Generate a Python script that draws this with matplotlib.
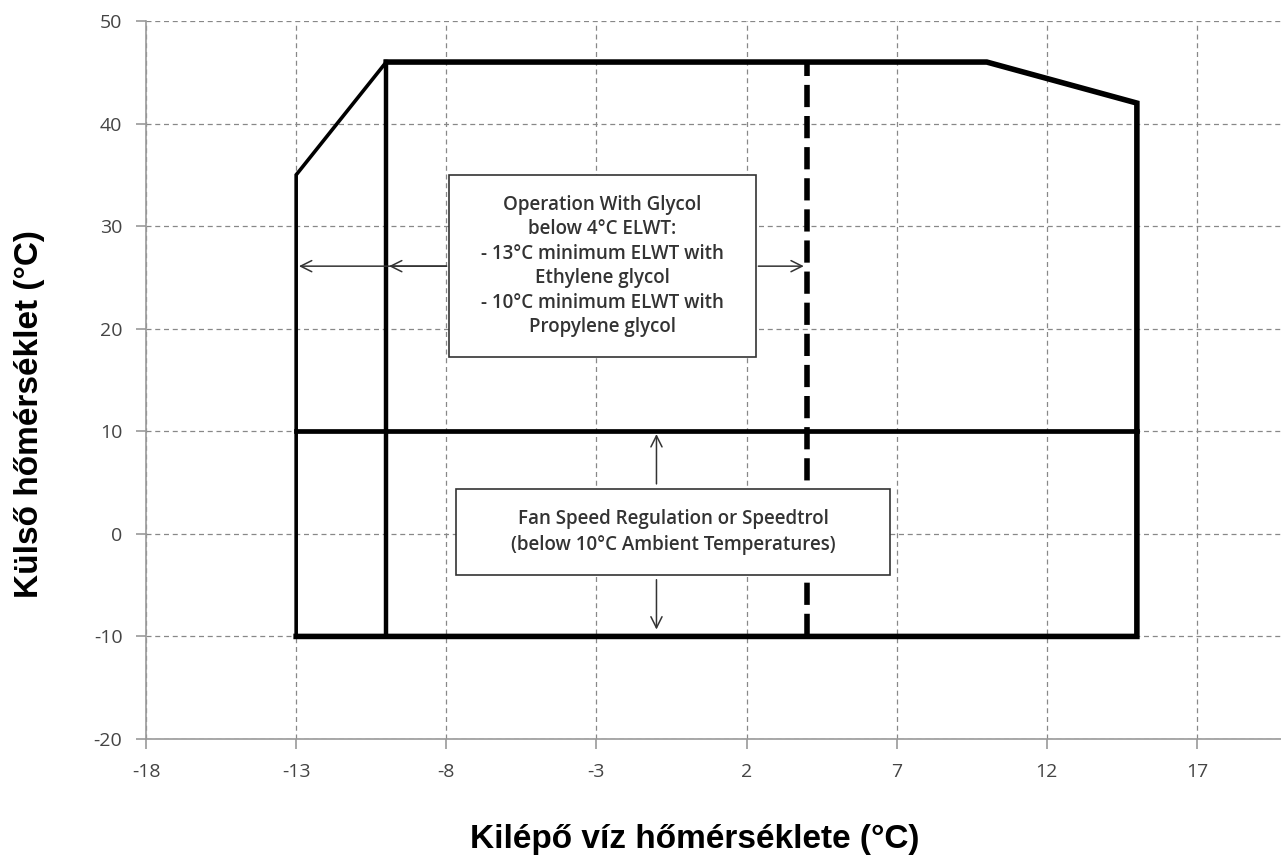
import matplotlib.pyplot as plt
from matplotlib.patches import Rectangle

# operating envelope (leaving water temp vs. ambient temp)
envelope_x = [-13, -13, -10, 10, 15, 15, -13]
envelope_y = [-10, 35, 46, 46, 42, -10, -10]
glycol_limit_x = -10      # glycol operation boundary
ambient_limit_y = 10      # fan speed regulation boundary
elwt_limit_x = 4          # 4°C ELWT line
y_low, y_high = -10, 46

x_ticks = [-18, -13, -8, -3, 2, 7, 12, 17]
y_ticks = [-20, -10, 0, 10, 20, 30, 40, 50]

glycol_text = ("Operation With Glycol\nbelow 4°C ELWT:\n- 13°C minimum ELWT with\n"
               "Ethylene glycol\n- 10°C minimum ELWT with\nPropylene glycol")
fan_text = "Fan Speed Regulation or Speedtrol\n(below 10°C Ambient Temperatures)"

plt.rcParams['axes.unicode_minus'] = False

fig = plt.figure(figsize=(12.81, 8.58), dpi=100)
ax = fig.add_axes([0.114, 0.1387, 0.886, 0.8368])

ax.set_xlim(-18, 19.8)
ax.set_ylim(-20, 50)
ax.set_xticks(x_ticks)
ax.set_yticks(y_ticks)
ax.grid(True, linestyle=(0, (4, 3)), color='#888888', linewidth=0.9)
ax.set_axisbelow(True)
for s in ['top', 'right']:
    ax.spines[s].set_visible(False)
for s in ['left', 'bottom']:
    ax.spines[s].set_color('#999999')
    ax.spines[s].set_linewidth(1.2)
ax.tick_params(colors='#999999', length=7, width=1.2, labelcolor='#444444',
               labelsize=14, pad=10)
for lab in ax.get_xticklabels() + ax.get_yticklabels():
    lab.set_family('Open Sans')

# envelope outline: thinner slanted left part, heavier rest
ax.plot(envelope_x[:3], envelope_y[:3], color='black', lw=2.6,
        solid_joinstyle='miter', zorder=3)
ax.plot(envelope_x[2:], envelope_y[2:], color='black', lw=4.0,
        solid_joinstyle='miter', zorder=3)
ax.plot([glycol_limit_x, glycol_limit_x], [y_low, y_high], color='black', lw=3.2, zorder=3)
ax.plot([envelope_x[0], envelope_x[4]], [ambient_limit_y, ambient_limit_y],
        color='black', lw=3.4, zorder=3)
ax.plot([elwt_limit_x, elwt_limit_x], [y_low, y_high], color='black', lw=4.0,
        linestyle=(0, (4, 1.6)), zorder=3)

# annotation boxes
ax.add_patch(Rectangle((-7.9, 17.25), 10.2, 17.75, facecolor='white',
                       edgecolor='#333333', lw=1.2, zorder=4))
ax.text(-2.8, 26.1, glycol_text, ha='center', va='center', fontsize=13.5,
        family='Open Sans', fontweight='semibold', color='#333333',
        linespacing=1.3, zorder=5)
ax.add_patch(Rectangle((-7.67, -4.0), 14.44, 8.4, facecolor='white',
                       edgecolor='#333333', lw=1.2, zorder=4))
ax.text(-0.45, 0.2, fan_text, ha='center', va='center', fontsize=13.5,
        family='Open Sans', fontweight='semibold', color='#333333',
        linespacing=1.4, zorder=5)

arrow = dict(arrowstyle='->,head_length=0.8,head_width=0.4', color='#333333', lw=1.1)
ax.annotate('', xy=(-13, 26.1), xytext=(-7.9, 26.1), arrowprops=arrow, zorder=5)
ax.annotate('', xy=(-10, 26.1), xytext=(-7.9, 26.1), arrowprops=arrow, zorder=5)
ax.annotate('', xy=(4, 26.1), xytext=(2.3, 26.1), arrowprops=arrow, zorder=5)
ax.annotate('', xy=(-1, 10), xytext=(-1, 4.6), arrowprops=arrow, zorder=5)
ax.annotate('', xy=(-1, -9.6), xytext=(-1, -4.2), arrowprops=arrow, zorder=5)

fig.text(0.5425, 0.012, 'Kilépő víz hőmérséklete (°C)', ha='center', va='baseline',
         fontsize=24, fontweight='bold', family='Liberation Sans')
fig.text(0.023, 0.5175, 'Külső hőmérséklet (°C)', ha='center', va='center',
         rotation=90, fontsize=24, fontweight='bold', family='Liberation Sans')

fig.savefig('out.png', dpi=100)
